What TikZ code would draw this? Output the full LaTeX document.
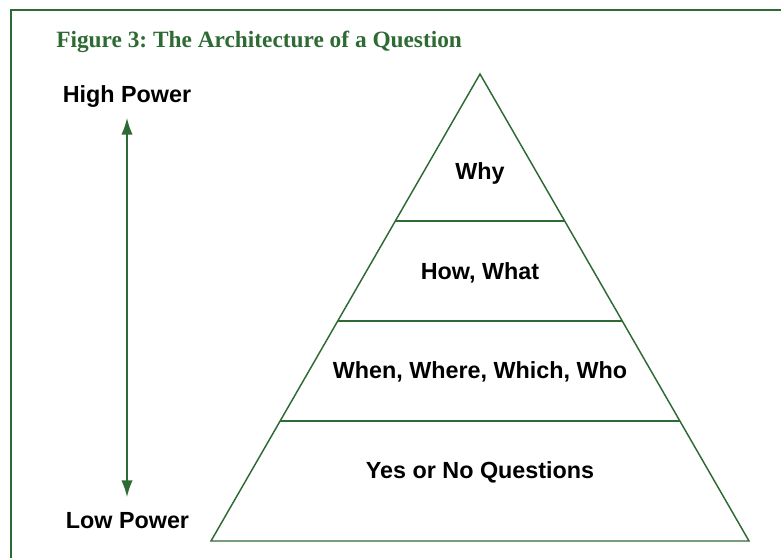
\documentclass[tikz,border=0pt]{standalone}
\usepackage{fontspec}
\setmainfont{Liberation Serif}
\newfontfamily\labfont{Liberation Sans}
\usetikzlibrary{arrows.meta,calc}
\definecolor{fgreen}{HTML}{2E6A33}
\frenchspacing
\begin{document}
\begin{tikzpicture}[x=0.75pt,y=-0.75pt,
  frameline/.style={draw=fgreen,line width=1.1pt},
  pyrline/.style={draw=fgreen,line width=1.1pt,line join=miter},
  lab/.style={font=\labfont\bfseries\fontsize{17.5}{20}\selectfont,text=black,inner sep=0pt,anchor=base},
  ttl/.style={font=\bfseries\fontsize{17.5}{20}\selectfont,text=fgreen,inner sep=0pt,anchor=base west},
  powarrow/.style={draw=fgreen,line width=1.1pt,{Latex[length=12.5pt,width=8.5pt]}-{Latex[length=12.5pt,width=8.5pt]}}]
\useasboundingbox (0,0) rectangle (781,557);
% frame (top and left edges visible)
\draw[frameline] (11,570) -- (11,10) -- (795,10);
% title
\node[ttl] (title) at (56,47) {Figure 3: The Architecture of a Question};
% power labels and arrow
\node[lab] (hp) at (127,102.5) {High Power};
\node[lab] (lp) at (127.5,528) {Low Power};
\coordinate (atop) at (127,118);
\coordinate (abot) at (127,497);
\draw[powarrow] (abot) -- (atop);
% pyramid
\coordinate (apex) at (480,74);
\coordinate (bl) at (211,541);
\coordinate (br) at (749,541);
\draw[pyrline] (apex) -- (bl) -- (br) -- cycle;
\foreach \t/\n in {0.3148/a,0.5289/b,0.7430/c}{
  \draw[pyrline] ($(apex)!\t!(bl)$) coordinate (l\n) -- ($(apex)!\t!(br)$) coordinate (r\n);
}
\node[lab] (why) at (480,179) {Why};
\node[lab] (how) at (480,279) {How, What};
\node[lab] (when) at (480,378) {When, Where, Which, Who};
\node[lab] (yes) at (480,478) {Yes or No Questions};
\end{tikzpicture}
\end{document}
